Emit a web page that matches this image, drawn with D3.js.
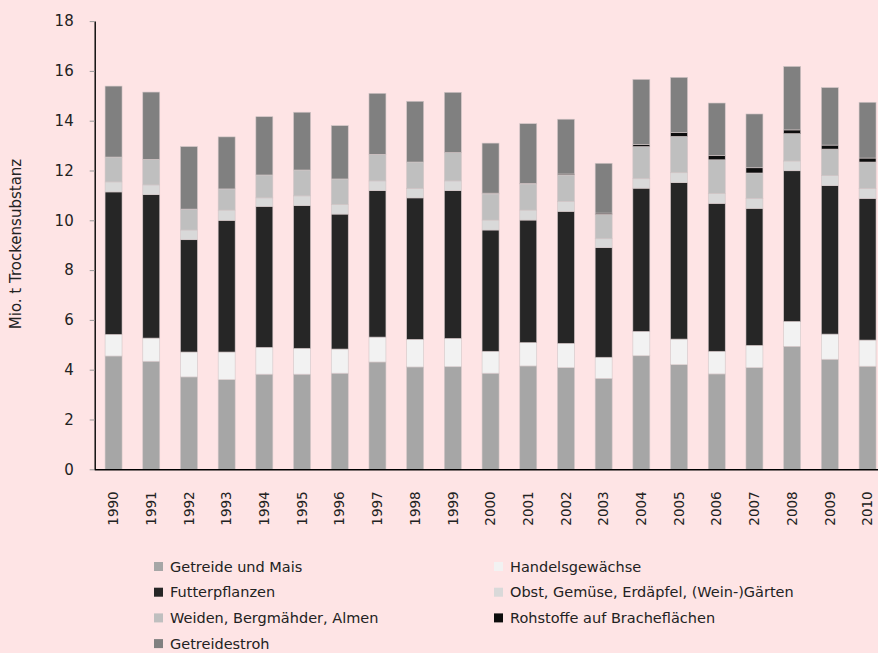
<!DOCTYPE html>
<html>
<head>
<meta charset="utf-8">
<script src="https://cdn.jsdelivr.net/npm/d3@7/dist/d3.min.js"></script>
<style>
  html, body { margin: 0; padding: 0; background: #fee4e5; }
  svg { display: block; }
  text { font-family: "DejaVu Sans", sans-serif; fill: #222; }
</style>
</head>
<body>
<svg id="chart" width="878" height="653"></svg>
<script>
const years = ["1990","1991","1992","1993","1994","1995","1996","1997","1998","1999","2000","2001","2002","2003","2004","2005","2006","2007","2008","2009","2010"];
const seriesNames = ["Getreide und Mais","Handelsgewächse","Futterpflanzen","Obst, Gemüse, Erdäpfel, (Wein-)Gärten","Weiden, Bergmähder, Almen","Rohstoffe auf Bracheflächen","Getreidestroh"];
const getreideMais   = [4.55,4.34,3.71,3.60,3.82,3.82,3.86,4.31,4.11,4.12,3.86,4.15,4.08,3.65,4.56,4.20,3.83,4.08,4.94,4.42,4.14];
const handels        = [0.87,0.93,1.00,1.11,1.08,1.04,0.97,1.00,1.11,1.14,0.88,0.94,0.98,0.85,0.98,1.03,0.91,0.90,1.00,1.01,1.05];
const futter         = [5.72,5.76,4.51,5.29,5.66,5.73,5.42,5.88,5.68,5.93,4.87,4.92,5.30,4.40,5.75,6.28,5.94,5.50,6.05,5.96,5.69];
const obst           = [0.40,0.39,0.39,0.41,0.34,0.39,0.38,0.39,0.37,0.39,0.40,0.40,0.40,0.36,0.38,0.40,0.39,0.40,0.39,0.40,0.39];
const weiden         = [1.00,1.03,0.84,0.85,0.92,1.04,1.03,1.07,1.07,1.14,1.05,1.05,1.06,0.98,1.29,1.46,1.36,1.02,1.10,1.07,1.07];
const rohstoffe      = [0,0,0,0,0,0,0,0,0,0,0.03,0.02,0.04,0.05,0.09,0.15,0.18,0.21,0.15,0.16,0.16];
const stroh          = [2.85,2.70,2.51,2.09,2.34,2.32,2.14,2.45,2.44,2.42,2.01,2.40,2.20,2.00,2.61,2.22,2.10,2.16,2.55,2.31,2.24];
const colors = ["#a6a6a6","#f2f2f2","#262626","#d9d9d9","#bfbfbf","#0d0d0d","#808080"];
const yTicks = [0,2,4,6,8,10,12,14,16,18];
const yTitle = "Mio. t Trockensubstanz";

const seriesVals = [getreideMais, handels, futter, obst, weiden, rohstoffe, stroh];
const keys = seriesNames.map((d,i)=>"s"+i);
const table = years.map((y,j)=>{
  const row = {year:y};
  seriesVals.forEach((arr,i)=>row["s"+i]=arr[j]);
  return row;
});

const svg = d3.select("#chart");
const x0 = 94.7, step = 37.7;
const x = d3.scaleBand().domain(years).range([x0, x0 + step*years.length]).paddingInner(0.55).paddingOuter(0.275);
const y = d3.scaleLinear().domain([0,18]).range([469.3, 21.1]);

const stack = d3.stack().keys(keys)(table);

svg.append("g").selectAll("g").data(stack).join("g")
  .attr("fill",(d,i)=>colors[i])
  .selectAll("rect").data(d=>d.filter(p=>p[1]-p[0]>0)).join("rect")
  .attr("x",d=>x(d.data.year))
  .attr("width",x.bandwidth())
  .attr("y",d=>y(d[1]))
  .attr("height",d=>y(d[0])-y(d[1]))
  .attr("stroke","#d2c6c7")
  .attr("stroke-width",0.6);

// Y axis
const yAxis = svg.append("g").attr("transform",`translate(${x0},0)`)
  .call(d3.axisLeft(y).tickValues(yTicks).tickSize(5).tickSizeOuter(0).tickPadding(16));
yAxis.select(".domain").attr("stroke","#000").attr("stroke-width",1.4);
yAxis.selectAll(".tick line").attr("stroke","#999");
yAxis.selectAll(".tick text").style("font-size","15px").attr("fill","#222").style("font-family","DejaVu Sans");

// X axis
const xAxis = svg.append("g").attr("transform",`translate(0,${y(0)})`)
  .call(d3.axisBottom(x).tickSize(0).tickSizeOuter(0).tickPadding(0));
xAxis.select(".domain").attr("stroke","#000").attr("stroke-width",1.4)
  .attr("d",`M${x0},0.5H878`);
xAxis.selectAll(".tick text")
  .style("font-size","13.5px").style("font-family","DejaVu Sans").attr("fill","#222")
  .attr("text-anchor","end").attr("dy","0.35em")
  .attr("transform","translate(0,22) rotate(-90)").attr("x",0).attr("y",0);

// Y title
svg.append("text").attr("transform","translate(16,244) rotate(-90)")
  .attr("text-anchor","middle").attr("dy","0.35em")
  .style("font-size","15px").text(yTitle);

// Legend
const legX = [154, 494], legY0 = 566.5, legDy = 25.7;
const leg = svg.append("g");
seriesNames.forEach((name,i)=>{
  const col = i%2, row = Math.floor(i/2);
  const g = leg.append("g").attr("transform",`translate(${legX[col]},${legY0+row*legDy})`);
  g.append("rect").attr("x",0).attr("y",-4.5).attr("width",9).attr("height",9).attr("fill",colors[i]);
  g.append("text").attr("x",16).attr("dy","0.35em").style("font-size","14.5px").text(name);
});
</script>
</body>
</html>
